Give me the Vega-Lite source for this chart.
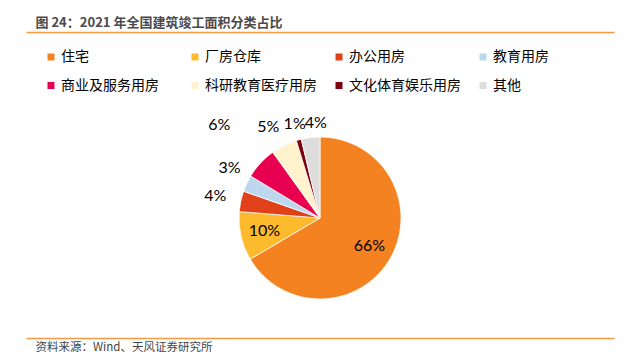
{
  "$schema": "https://vega.github.io/schema/vega-lite/v6.json",
  "width": 588,
  "height": 240,
  "autosize": {"type": "none"},
  "padding": {"left": 26, "top": 98, "right": 12, "bottom": 26},
  "background": "#ffffff",
  "config": {
    "view": {"stroke": null},
    "font": "Noto Sans CJK SC"
  },
  "data": {
    "values": [
      {"category": "住宅", "value": 66.4, "label": "66%", "order": 1},
      {"category": "厂房仓库", "value": 9.7, "label": "10%", "order": 2},
      {"category": "办公用房", "value": 4.1, "label": "4%", "order": 3},
      {"category": "教育用房", "value": 3.3, "label": "3%", "order": 4},
      {"category": "商业及服务用房", "value": 6.4, "label": "6%", "order": 5},
      {"category": "科研教育医疗用房", "value": 5.2, "label": "5%", "order": 6},
      {"category": "文化体育娱乐用房", "value": 1.0, "label": "1%", "order": 7},
      {"category": "其他", "value": 3.7, "label": "4%", "order": 8}
    ]
  },
  "layer": [
    {
      "mark": {"type": "arc", "radius": 81, "stroke": "#ffffff", "strokeWidth": 0.75},
      "encoding": {
        "x": {"datum": 0.5, "type": "quantitative", "scale": {"domain": [0, 1], "nice": false, "zero": false},
          "axis": {"orient": "bottom", "domain": true, "domainColor": "#F59A45", "domainWidth": 1.5, "ticks": false, "labels": false, "grid": false,
            "title": "资料来源：Wind、天风证券研究所", "titleFont": "Noto Sans CJK SC", "titleFontSize": 11.5, "titleFontWeight": "normal", "titleColor": "#444444",
            "titleAnchor": "start", "titleAlign": "left", "titleBaseline": "middle", "titleX": 9, "titleY": 9}},
        "y": {"datum": 0.5, "type": "quantitative", "scale": {"domain": [0, 1], "nice": false, "zero": false}, "axis": null},
        "theta": {"field": "value", "type": "quantitative", "stack": true},
        "order": {"field": "order", "type": "quantitative"},
        "color": {
          "field": "category", "type": "nominal",
          "scale": {
            "domain": ["住宅", "厂房仓库", "办公用房", "教育用房", "商业及服务用房", "科研教育医疗用房", "文化体育娱乐用房", "其他"],
            "range": ["#F58220", "#FDBA2C", "#E04119", "#BDD7EE", "#E6004F", "#FFF2CC", "#7B0011", "#DDDDDD"]
          },
          "legend": {
            "orient": "none", "legendX": 18, "legendY": -48, "direction": "horizontal", "columns": 4,
            "title": null, "symbolType": "square", "symbolSize": 49, "symbolStrokeWidth": 0,
            "labelFont": "Noto Sans CJK SC", "labelFontSize": 14, "labelColor": "#000000", "labelOffset": 3, "labelLimit": 0,
            "columnPadding": 15, "rowPadding": 14.5, "gridAlign": "all", "padding": 0
          }
        }
      }
    },
    {
      "mark": {"type": "text", "radius": 57, "font": "Lato", "fontSize": 16, "color": "#000000"},
      "encoding": {
        "x": {"datum": 0.5, "type": "quantitative",
          "axis": {"orient": "top", "offset": 66, "domain": true, "domainColor": "#F59A45", "domainWidth": 1.5, "ticks": false, "labels": false, "grid": false,
            "title": "图 24：2021 年全国建筑竣工面积分类占比", "titleFont": "Noto Sans CJK SC", "titleFontSize": 13, "titleFontWeight": "bold", "titleColor": "#4a4a4a",
            "titleAnchor": "start", "titleAlign": "left", "titleBaseline": "middle", "titleX": 9, "titleY": -10}},
        "theta": {"field": "value", "type": "quantitative", "stack": true},
        "order": {"field": "order", "type": "quantitative"},
        "text": {"condition": {"test": "indexof(['住宅','厂房仓库'], datum.category) >= 0", "field": "label"}, "value": ""}
      }
    },
    {
      "mark": {"type": "text", "radius": 96, "dx": 7, "font": "Lato", "fontSize": 16, "color": "#000000"},
      "encoding": {
        "theta": {"field": "value", "type": "quantitative", "stack": true},
        "order": {"field": "order", "type": "quantitative"},
        "text": {"condition": {"test": "datum.category === '其他'", "field": "label"}, "value": ""}
      }
    },
    {
      "mark": {"type": "text", "radius": 97, "font": "Lato", "fontSize": 16, "color": "#000000"},
      "encoding": {
        "theta": {"field": "value", "type": "quantitative", "stack": true},
        "order": {"field": "order", "type": "quantitative"},
        "text": {"condition": {"test": "datum.category === '文化体育娱乐用房'", "field": "label"}, "value": ""}
      }
    },
    {
      "mark": {"type": "text", "radius": 101, "dx": -7, "font": "Lato", "fontSize": 16, "color": "#000000"},
      "encoding": {
        "theta": {"field": "value", "type": "quantitative", "stack": true},
        "order": {"field": "order", "type": "quantitative"},
        "text": {"condition": {"test": "datum.category === '科研教育医疗用房'", "field": "label"}, "value": ""}
      }
    },
    {
      "mark": {"type": "text", "radius": 100, "dy": -7, "font": "Lato", "fontSize": 16, "color": "#000000"},
      "encoding": {
        "theta": {"field": "value", "type": "quantitative", "stack": true},
        "order": {"field": "order", "type": "quantitative"},
        "text": {"condition": {"test": "datum.category === '教育用房'", "field": "label"}, "value": ""}
      }
    },
    {
      "mark": {"type": "text", "radius": 107, "font": "Lato", "fontSize": 16, "color": "#000000"},
      "encoding": {
        "theta": {"field": "value", "type": "quantitative", "stack": true},
        "order": {"field": "order", "type": "quantitative"},
        "text": {"condition": {"test": "datum.category === '办公用房'", "field": "label"}, "value": ""}
      }
    },
    {
      "mark": {"type": "text", "radius": 137, "font": "Lato", "fontSize": 16, "color": "#000000"},
      "encoding": {
        "theta": {"field": "value", "type": "quantitative", "stack": true},
        "order": {"field": "order", "type": "quantitative"},
        "text": {"condition": {"test": "datum.category === '商业及服务用房'", "field": "label"}, "value": ""}
      }
    }
  ],
  "resolve": {"axis": {"x": "independent"}}
}
